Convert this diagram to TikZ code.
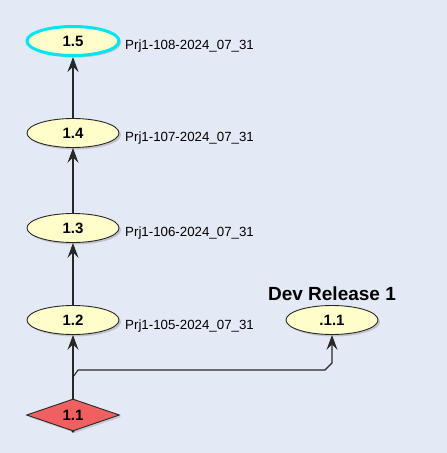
\documentclass[tikz,border=0pt]{standalone}
\usepackage{fontspec}
\setmainfont{Liberation Sans}
\usetikzlibrary{shapes.geometric,arrows.meta,shadows}
\definecolor{bgc}{RGB}{228,233,246}
\definecolor{nodefill}{RGB}{255,255,204}
\definecolor{diafill}{RGB}{240,96,96}
\definecolor{hicyan}{RGB}{0,230,240}
\definecolor{linec}{RGB}{40,40,40}
\tikzset{
  ver/.style={ellipse, draw=linec, line width=0.9pt, fill=nodefill,
    minimum width=92pt, minimum height=29pt, inner sep=0pt,
    font=\fontsize{15}{17}\selectfont\bfseries,
    drop shadow={shadow xshift=2pt, shadow yshift=-2pt, opacity=0.35, fill=gray}},
  current/.style={draw=hicyan, line width=3pt},
  rootver/.style={diamond, aspect=2.9, draw=linec, line width=0.9pt, fill=diafill,
    minimum width=93pt, minimum height=32pt, inner sep=0pt,
    font=\fontsize{15}{17}\selectfont\bfseries,
    drop shadow={shadow xshift=2pt, shadow yshift=-2pt, opacity=0.3, fill=gray}},
  tag/.style={anchor=base west, inner sep=0pt, font=\fontsize{13.3}{15}\selectfont},
  branchname/.style={inner sep=0pt, font=\fontsize{19}{21}\selectfont\bfseries},
  conn/.style={draw=linec, line width=1.1pt,
    -{Stealth[length=15pt, width=11pt, inset=5.5pt]}},
}
\begin{document}
\begin{tikzpicture}[x=1pt, y=-1pt]
\fill[bgc] (0,0) rectangle (447,453);
\useasboundingbox (0,0) rectangle (447,453);

\node[ver, current] (v15) at (73,41) {1.5};
\node[ver] (v14) at (73,133) {1.4};
\node[ver] (v13) at (73,228) {1.3};
\node[ver] (v12) at (73,320) {1.2};
\node[ver] (d11) at (332,320) {.1.1};
\node[rootver] (v11) at (73,415) {1.1};

\node[tag] (t15) at (125,49) {Prj1-108-2024\_07\_31};
\node[tag] (t14) at (125,141) {Prj1-107-2024\_07\_31};
\node[tag] (t13) at (125,236) {Prj1-106-2024\_07\_31};
\node[tag] (t12) at (125,329) {Prj1-105-2024\_07\_31};
\node[branchname] (bn) at (332,294) {Dev Release 1};

\draw[conn] (v14.north) -- (v15.south);
\draw[conn] (v13.north) -- (v14.south);
\draw[conn] (v12.north) -- (v13.south);
\draw[conn] (v11.north) -- (v12.south);

\coordinate (b0) at (73,377);
\coordinate (b1) at (78,370);
\coordinate (b2) at (325,370);
\coordinate (b3) at (332,363);
\draw[conn] (b0) -- (b1) -- (b2) -- (b3) -- (d11.south);

\fill[linec] (v11.south) circle (1.5pt);
\end{tikzpicture}
\end{document}
